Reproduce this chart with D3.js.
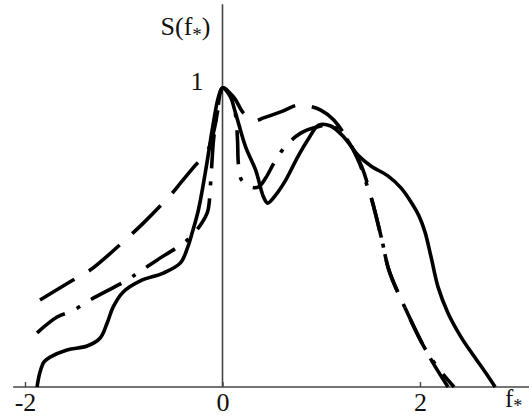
<!DOCTYPE html>
<html>
<head>
<meta charset="utf-8">
<script src="https://cdn.jsdelivr.net/npm/d3@7"></script>
<style>
    body { margin: 0; background: #fff; }
    svg { display: block; }
</style>
</head>
<body>
<div id="chart"></div>
<script>
// Spectrum curves: f* values and S(f*) values
var solidF = [-1.878, -1.848, -1.807, -1.746, -1.574, -1.371, -1.239, -1.168, -1.107, -1.005, -0.832, -0.599, -0.426, -0.355, -0.305, -0.244, -0.173, -0.091, -0.041, 0,
    0.061, 0.132, 0.234, 0.335, 0.416, 0.457, 0.538, 0.640, 0.761, 0.863, 0.975, 1.096, 1.228, 1.371, 1.503, 1.675, 1.807, 1.909, 1.990, 2.051, 2.112, 2.183, 2.284, 2.416, 2.538, 2.660, 2.761];
var solidS = [0, 0.050, 0.084, 0.100, 0.124, 0.137, 0.164, 0.214, 0.268, 0.318, 0.355, 0.381, 0.415, 0.465, 0.518, 0.592, 0.719, 0.886, 0.970, 1,
    0.987, 0.916, 0.803, 0.726, 0.635, 0.615, 0.642, 0.692, 0.769, 0.826, 0.876, 0.873, 0.836, 0.776, 0.739, 0.706, 0.666, 0.619, 0.572, 0.518, 0.435, 0.334, 0.247, 0.167, 0.107, 0.050, 0];

var dashF = [-1.848, -1.513, -1.340, -0.964, -0.802, -0.508, -0.426, -0.274, -0.152, -0.081, -0.030, 0,
    0.112, 0.213, 0.315, 0.416, 0.589, 0.761, 0.863, 0.995, 1.127, 1.269, 1.411, 1.513, 1.614, 1.685, 1.858, 2.041, 2.162, 2.284];
var dashS = [0.291, 0.358, 0.391, 0.498, 0.548, 0.649, 0.682, 0.742, 0.789, 0.866, 0.960, 1,
    0.970, 0.916, 0.890, 0.900, 0.920, 0.943, 0.940, 0.926, 0.893, 0.826, 0.736, 0.625, 0.492, 0.391, 0.258, 0.134, 0.064, 0];

var dotDashF = [-1.878, -1.675, -1.523, -1.340, -0.964, -0.832, -0.660, -0.355, -0.223, -0.152, -0.122, -0.091, -0.051, 0,
    0.081, 0.132, 0.152, 0.162, 0.193, 0.284, 0.365, 0.437, 0.538, 0.640, 0.792, 0.964, 1.096, 1.249, 1.381, 1.462, 1.513, 1.614, 1.685, 1.858, 2.041, 2.183, 2.345];
var dotDashS = [0.181, 0.234, 0.254, 0.291, 0.358, 0.388, 0.425, 0.492, 0.542, 0.585, 0.676, 0.826, 0.926, 1,
    0.970, 0.910, 0.826, 0.742, 0.692, 0.669, 0.669, 0.699, 0.759, 0.806, 0.849, 0.870, 0.876, 0.833, 0.753, 0.676, 0.625, 0.492, 0.391, 0.258, 0.134, 0.064, 0];

var xTicks = [-2, 0, 2];
var yTicks = [1];

var serif = "'Liberation Serif', 'Times New Roman', serif";

// Define SVG area dimensions
var svgWidth = 529;
var svgHeight = 419;

var svg = d3.select("#chart")
    .append("svg")
    .attr("width", svgWidth)
    .attr("height", svgHeight);

// Scales
var xScale = d3.scaleLinear()
    .domain([-2, 2])
    .range([25, 420]);

var yScale = d3.scaleLinear()
    .domain([0, 1])
    .range([387, 88]);

// Axis lines (extend past the data like in the picture)
svg.append("line")
    .attr("x1", xScale(-2.12))
    .attr("x2", svgWidth)
    .attr("y1", yScale(0))
    .attr("y2", yScale(0))
    .attr("stroke", "#444")
    .attr("stroke-width", 1.6);

svg.append("line")
    .attr("x1", xScale(0))
    .attr("x2", xScale(0))
    .attr("y1", yScale(0))
    .attr("y2", yScale(1.28))
    .attr("stroke", "#444")
    .attr("stroke-width", 1.6);

// Bottom axis: small inward ticks and labels
var bottomAxis = d3.axisBottom(xScale)
    .tickValues(xTicks)
    .tickSizeInner(-5)
    .tickSizeOuter(0)
    .tickPadding(6)
    .tickFormat(d => d < 0 ? "-" + Math.abs(d) : String(d));

var xAxisGroup = svg.append("g")
    .attr("transform", `translate(0, ${yScale(0)})`)
    .call(bottomAxis)
    .attr("font-family", serif)
    .attr("font-size", 26);
xAxisGroup.select(".domain").remove();
xAxisGroup.selectAll("line").attr("stroke", "#444").attr("stroke-width", 1.4);
xAxisGroup.selectAll("text").attr("fill", "#111");

// Left axis: only the "1" label
var leftAxis = d3.axisLeft(yScale)
    .tickValues(yTicks)
    .tickSize(0)
    .tickPadding(19)
    .tickFormat(d3.format("d"));

var yAxisGroup = svg.append("g")
    .attr("transform", `translate(${xScale(0)}, 0)`)
    .call(leftAxis)
    .attr("font-family", serif)
    .attr("font-size", 26);
yAxisGroup.select(".domain").remove();
yAxisGroup.selectAll("text")
    .attr("fill", "#111")
    .attr("dy", "0.04em");

// Curves
var line = d3.line()
    .x(d => xScale(d[0]))
    .y(d => yScale(d[1]))
    .curve(d3.curveCatmullRom.alpha(0.5));

var curves = [
    { f: solidF, s: solidS, dash: null },
    { f: dashF, s: dashS, dash: "40,17" },
    { f: dotDashF, s: dotDashS, dash: "34,13,4,13" }
];

svg.selectAll(".curve")
    .data(curves)
    .enter()
    .append("path")
    .attr("class", "curve")
    .attr("d", c => line(c.f.map((v, i) => [v, c.s[i]])))
    .attr("fill", "none")
    .attr("stroke", "#000")
    .attr("stroke-width", 3.6)
    .attr("stroke-dasharray", c => c.dash);

// Axis titles
var yTitle = svg.append("text")
    .attr("font-family", serif)
    .attr("font-size", 26)
    .attr("fill", "#111")
    .attr("x", xScale(0) - 12)
    .attr("y", 35)
    .attr("text-anchor", "end");
yTitle.append("tspan").text("S(f");
yTitle.append("tspan").attr("font-size", 19).attr("dy", 6).text("*");
yTitle.append("tspan").attr("dy", -6).text(")");

var xTitle = svg.append("text")
    .attr("font-family", serif)
    .attr("font-size", 25)
    .attr("fill", "#111")
    .attr("x", 505)
    .attr("y", 407);
xTitle.append("tspan").text("f");
xTitle.append("tspan").attr("font-size", 18).attr("dy", 5).text("*");
</script>
</body>
</html>
